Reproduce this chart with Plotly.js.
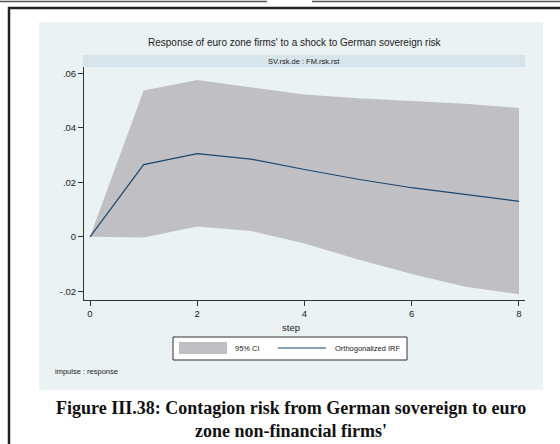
<!DOCTYPE html>
<html><head><meta charset="utf-8">
<script src="https://cdn.plot.ly/plotly-3.0.1.min.js"></script>
<style>html,body{margin:0;padding:0;background:#fff}#chart{width:560px;height:444px}</style>
</head><body><div id="chart"></div>
<script>
// Data
const steps = [0, 1, 2, 3, 4, 5, 6, 7, 8];
const irf   = [0, 0.0265, 0.0305, 0.0285, 0.0247, 0.0211, 0.0180, 0.0155, 0.0130];
const ciLow = [0, -0.0003, 0.0038, 0.0021, -0.0025, -0.0083, -0.0137, -0.0183, -0.0211];
const ciUp  = [0, 0.0537, 0.0575, 0.0548, 0.0522, 0.0508, 0.0499, 0.0488, 0.0473];
const yTickVals = [-0.02, 0, 0.02, 0.04, 0.06];
const yTickText = ['-.02', '0', '.02', '.04', '.06'];
const xTickVals = [0, 2, 4, 6, 8];

const W = 560, H = 444;
const px = x => x / W, py = y => (H - y) / H;
const CIcol = 'rgb(192,192,196)', LINEcol = '#1a476f', PANEL = 'rgb(234,242,243)';
const FONT = 'Liberation Sans, Arial, sans-serif';

const traces = [
  {x: steps, y: ciLow, type: 'scatter', mode: 'lines', line: {width: 0, color: CIcol}, hoverinfo: 'skip', showlegend: false},
  {x: steps, y: ciUp, type: 'scatter', mode: 'lines', fill: 'tonexty', fillcolor: CIcol, line: {width: 0, color: CIcol}, name: '95% CI', showlegend: false},
  {x: steps, y: irf, type: 'scatter', mode: 'lines', line: {width: 1.2, color: LINEcol}, name: 'Orthogonalized IRF', showlegend: false}
];

function rect(x0, y0, x1, y1, fill, lineCol, lw) {
  return {type: 'rect', xref: 'paper', yref: 'paper', x0: px(x0), x1: px(x1), y0: py(y0), y1: py(y1),
          fillcolor: fill, line: {color: lineCol || 'rgba(0,0,0,0)', width: lw || 0}, layer: 'below'};
}
function seg(x0, y0, x1, y1, col, lw, layer) {
  return {type: 'line', xref: 'paper', yref: 'paper', x0: px(x0), x1: px(x1), y0: py(y0), y1: py(y1),
          line: {color: col, width: lw}, layer: layer || 'above'};
}

const shapes = [
  rect(39, 22, 543, 390, PANEL),
  rect(83, 55, 525, 67, 'rgb(214,228,235)'),
  seg(0, 1.5, 267, 1.5, '#555', 1.5),
  seg(312, 1.5, 560, 1.5, '#555', 1.5),
  seg(8, 8, 560, 8, '#222', 2.5),
  seg(9, 7, 9, 444, '#222', 2.5),
  // legend
  {type: 'rect', xref: 'paper', yref: 'paper', x0: px(173), x1: px(407), y0: py(337), y1: py(360), fillcolor: '#fff', line: {color: '#333', width: 1}, layer: 'above'},
  {type: 'rect', xref: 'paper', yref: 'paper', x0: px(179), x1: px(227), y0: py(342), y1: py(354), fillcolor: CIcol, line: {width: 0}, layer: 'above'},
  seg(278, 348, 326, 348, LINEcol, 1.2)
];

const annotations = [
  {text: "Response of euro zone firms' to a shock to German sovereign risk", xref: 'paper', yref: 'paper', x: px(294.5), y: py(42), showarrow: false, font: {family: FONT, size: 10, color: '#222'}, xanchor: 'center', yanchor: 'middle'},
  {text: 'SV.rsk.de : FM.rsk.rst', xref: 'paper', yref: 'paper', x: px(304), y: py(61), showarrow: false, font: {family: FONT, size: 7.5, color: '#222'}, xanchor: 'center', yanchor: 'middle'},
  {text: 'step', xref: 'paper', yref: 'paper', x: px(291), y: py(327), showarrow: false, font: {family: FONT, size: 9.5, color: '#222'}, xanchor: 'center', yanchor: 'middle'},
  {text: '95% CI', xref: 'paper', yref: 'paper', x: px(233), y: py(348), showarrow: false, font: {family: FONT, size: 7.5, color: '#222'}, xanchor: 'left', yanchor: 'middle'},
  {text: 'Orthogonalized IRF', xref: 'paper', yref: 'paper', x: px(333), y: py(348), showarrow: false, font: {family: FONT, size: 7.5, color: '#222'}, xanchor: 'left', yanchor: 'middle'},
  {text: 'impulse : response', xref: 'paper', yref: 'paper', x: px(53), y: py(371), showarrow: false, font: {family: FONT, size: 7.5, color: '#222'}, xanchor: 'left', yanchor: 'middle'},
  {text: "<b>Figure III.38: Contagion risk from German sovereign to euro<br>zone non-financial firms'</b>", xref: 'paper', yref: 'paper', x: px(290.5), y: py(419), showarrow: false, align: 'center', font: {family: 'Liberation Serif, Times New Roman, serif', size: 18, color: '#111'}, xanchor: 'center', yanchor: 'middle'}
];

const layout = {
  width: W, height: H,
  margin: {l: 0, r: 0, t: 0, b: 0},
  paper_bgcolor: '#fff', plot_bgcolor: '#fff',
  showlegend: false,
  xaxis: {domain: [px(84), px(525)], range: [-0.112, 8.112], tickvals: xTickVals, ticks: 'outside', ticklen: 5, tickcolor: '#333',
          showline: true, linecolor: '#333', linewidth: 1, showgrid: false, zeroline: false,
          tickfont: {family: FONT, size: 9.5, color: '#222'}, fixedrange: true},
  yaxis: {domain: [py(300), py(67)], range: [-0.0232, 0.0623], tickvals: yTickVals, ticktext: yTickText, ticks: 'outside', ticklen: 5, tickcolor: '#333',
          showline: true, linecolor: '#333', linewidth: 1, showgrid: true, gridcolor: PANEL, gridwidth: 1, zeroline: false,
          tickfont: {family: FONT, size: 9.5, color: '#222'}, fixedrange: true},
  shapes: shapes,
  annotations: annotations
};

Plotly.newPlot('chart', traces, layout, {staticPlot: true, displayModeBar: false});
</script></body></html>
